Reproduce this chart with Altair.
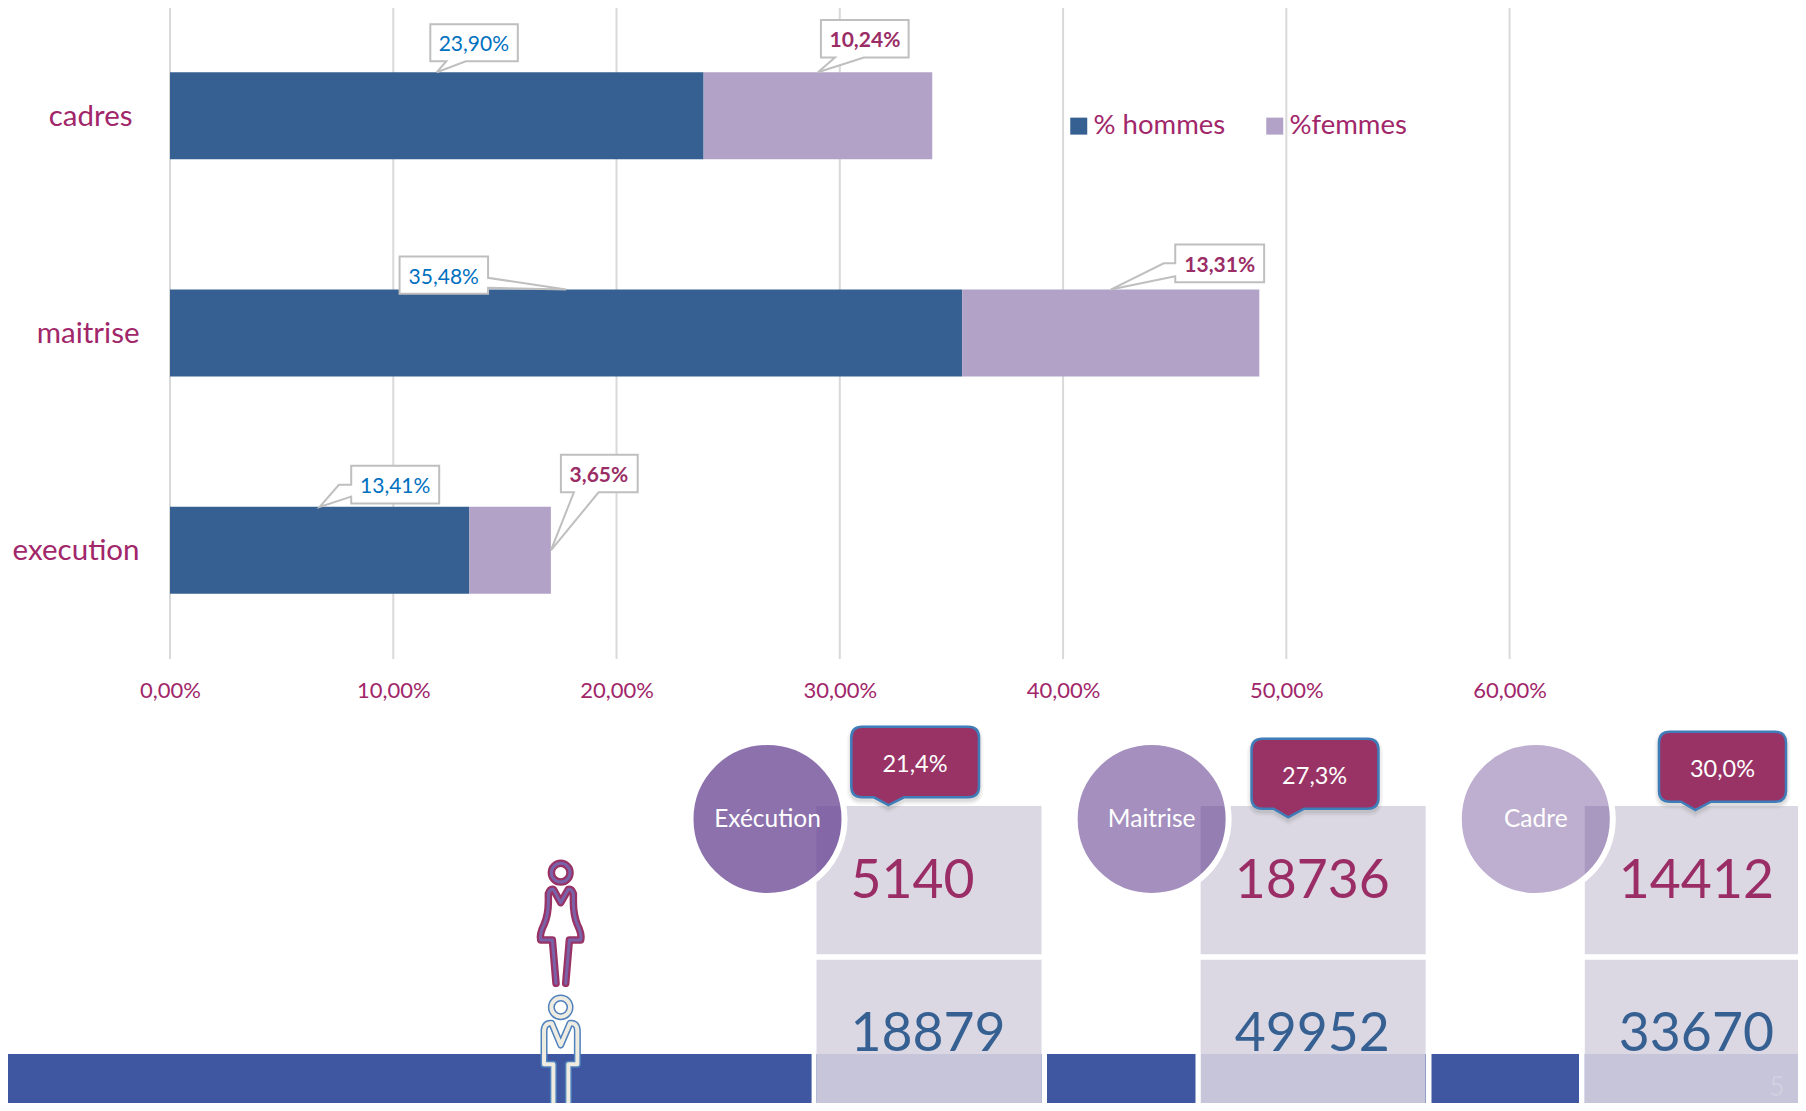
import altair as alt
import pandas as pd

# ---- values ----
categories = ["cadres", "maitrise", "execution"]
series = ["% hommes", "%femmes"]
pct_hommes = [0.2390, 0.3548, 0.1341]
pct_femmes = [0.1024, 0.1331, 0.0365]
label_hommes = ["23,90%", "35,48%", "13,41%"]
label_femmes = ["10,24%", "13,31%", "3,65%"]
x_ticks = [0.0, 0.1, 0.2, 0.3, 0.4, 0.5, 0.6]

levels = ["Exécution", "Maitrise", "Cadre"]
count_femmes = [5140, 18736, 14412]
count_hommes = [18879, 49952, 33670]
pct_bubble = ["21,4%", "27,3%", "30,0%"]
rows = ["femmes", "hommes"]

# ---- styles ----
FONT = "Lato"
PLUM = "#9B2D66"
AXIS_TXT = "#A1266A"
BLUE = "#366092"
LILAC = "#B2A2C7"
W, H = 1790, 1095

bars = []
for c, h, f in zip(categories, pct_hommes, pct_femmes):
    bars.append(dict(cat=c, s=series[0], start=0, end=h, mid=h / 2))
    bars.append(dict(cat=c, s=series[1], start=h, end=h + f, mid=h + f / 2))
bars = pd.DataFrame(bars)

x_bar = alt.Scale(domain=[0, 0.6], range=[162, 1501.6])
y_bar = alt.Scale(type="band", domain=categories, range=[-1, 651], paddingInner=0.6, paddingOuter=0.3)


def poly(pts):
    return "M" + " L".join(f"{x} {y}" for x, y in pts) + " Z"


# callouts: (series, category, anchor field, band position, polygon relative to tip, text offset, text)
callouts = [
    (0, "cadres", "mid", 0, [(-6.5, -48), (81, -48), (81, -11), (29, -11), (0, 0), (9.6, -11), (-6.5, -11)], (37, -27.4), label_hommes[0]),
    (1, "cadres", "mid", 0, [(3, -52.3), (90.7, -52.3), (90.7, -14.6), (46, -14.6), (0, 0), (17, -14.6), (3, -14.6)], (47, -31), label_femmes[0]),
    (0, "maitrise", "mid", 0, [(-166.5, -33), (-78, -33), (-78, -11.7), (0, 0), (-78, -1.7), (-78, 4.2), (-166.5, 4.2)], (-122.3, -11.7), label_hommes[1]),
    (1, "maitrise", "mid", 0, [(64.5, -45), (153.4, -45), (153.4, -7.3), (64.5, -7.3), (64.5, -13.3), (0, 0), (53, -26.2), (64.5, -26.2)], (109, -23.7), label_femmes[1]),
    (0, "execution", "mid", 0, [(31.5, -41), (119.5, -41), (119.5, -3.3), (31.5, -3.3), (31.5, -10.2), (0, 0), (19.2, -22), (31.5, -22)], (75.5, -20.2), label_hommes[2]),
    (1, "execution", "end", 0.5, [(10, -95.5), (86.8, -95.5), (86.8, -58), (47.7, -58), (0, 0), (23, -58), (10, -58)], (48, -74), label_femmes[2]),
]

layers = []

# grid
layers.append(
    alt.Chart(pd.DataFrame({"t": x_ticks}))
    .mark_rule(color="#D9D9D9", strokeWidth=2)
    .encode(x=alt.X("t:Q", scale=x_bar, axis=None), y=alt.value(-1), y2=alt.value(651))
)

# stacked bars with axes and legend
layers.append(
    alt.Chart(bars)
    .mark_bar()
    .encode(
        x=alt.X(
            "start:Q",
            scale=x_bar,
            axis=alt.Axis(
                values=x_ticks, grid=False, domain=False, ticks=False, title=None, orient="bottom",
                offset=-(H - 651), labelPadding=31, labelBaseline="middle", labelFont=FONT, labelFontSize=22,
                labelFlush=False, labelOverlap=False,
                labelColor=AXIS_TXT, labelExpr="replace(format(datum.value,'.2%'),'.',',')",
            ),
        ),
        x2="end:Q",
        y=alt.Y(
            "cat:N",
            scale=y_bar,
            axis=alt.Axis(
                grid=False, domain=False, ticks=False, title=None, orient="left", offset=-162,
                labelPadding={"condition": {"test": "datum.label == 'cadres'", "value": 38}, "value": 31},
                labelOffset=1, labelFont=FONT, labelFontSize=29.5, labelColor=AXIS_TXT,
            ),
        ),
        color=alt.Color(
            "s:N",
            scale=alt.Scale(domain=series, range=[BLUE, LILAC]),
            legend=alt.Legend(
                orient="none", legendX=1057, legendY=104, direction="horizontal", title=None, padding=0,
                symbolType="square", symbolSize=289, symbolStrokeWidth=0, symbolOpacity=1, labelFont=FONT,
                labelFontSize=27.5, labelColor=AXIS_TXT, labelOffset=1, columnPadding=35,
            ),
        ),
    )
)

# data-label callouts, tied to the bars
for s, cat, field, band, pts, (dx, dy), txt in callouts:
    row = bars[(bars.cat == cat) & (bars.s == series[s])].assign(txt=txt)
    enc = dict(
        x=alt.X(f"{field}:Q", scale=x_bar, axis=None),
        y=alt.Y("cat:N", scale=y_bar, axis=None, bandPosition=band),
    )
    layers.append(
        alt.Chart(row).mark_point(shape=poly(pts), size=4, filled=True, fill="white", stroke="#BFBFBF", strokeWidth=2, opacity=1).encode(**enc)
    )
    layers.append(
        alt.Chart(row)
        .mark_text(dx=dx, dy=dy, font=FONT, fontSize=21, color="#0070C0" if s == 0 else PLUM, fontWeight="normal" if s == 0 else "bold")
        .encode(text="txt:N", **enc)
    )

# ---- lower band ----
x_card = alt.Scale(type="band", domain=levels, range=[808.5, 1801.8], paddingInner=0.4143, paddingOuter=0)
y_card = alt.Scale(type="band", domain=rows, range=[798, 1100], paddingInner=0.037, paddingOuter=0)
XC = alt.X("level:N", scale=x_card, axis=None, bandPosition=0)
YC = alt.Y("row:N", scale=y_card, axis=None, bandPosition=0)

band_spans = [(-1, 803.6), (808.5, 1033.5), (1039, 1187.5), (1193, 1418), (1423.5, 1571), (1576.8, W + 1)]
for x0, x1 in band_spans:
    layers.append(
        alt.Chart(pd.DataFrame({"a": [0]})).mark_rect(color="#3F57A0").encode(
            x=alt.value(x0), x2=alt.value(x1), y=alt.value(1046), y2=alt.value(H + 1)
        )
    )

df_level = pd.DataFrame({"level": levels, "row": rows[0], "pct": pct_bubble})
df_cards = pd.DataFrame(
    {
        "level": levels * 2,
        "row": [rows[0]] * 3 + [rows[1]] * 3,
        "n": count_femmes + count_hommes,
        "kind": ["f"] * 3 + ["h"] * 3,
    }
)

# cards
layers.append(
    alt.Chart(df_cards).mark_bar(color="#D6D3DF", opacity=0.89).encode(
        x=alt.X("level:N", scale=x_card, axis=None), y=alt.Y("row:N", scale=y_card, axis=None)
    )
)

# translucent circles with an opaque white ring, above the cards
for lvl, alpha in zip(levels, [0.74, 0.59, 0.42]):
    d = df_level[df_level.level == lvl]
    layers.append(
        alt.Chart(d).mark_circle(size=23716, fill="#644090", fillOpacity=alpha, stroke="white", strokeWidth=6, strokeOpacity=1, opacity=1, xOffset=-49, yOffset=13).encode(x=XC, y=YC)
    )
    layers.append(
        alt.Chart(d).mark_text(font=FONT, fontSize=24.5, color="white", xOffset=-49, yOffset=14.3).encode(x=XC, y=YC, text=alt.Text("level:N"))
    )

for kind, col in [("f", PLUM), ("h", BLUE)]:
    layers.append(
        alt.Chart(df_cards[df_cards.kind == kind]).mark_text(font=FONT, fontSize=53.5, color=col, align="left", dx=34, dy=1.5).encode(
            x=XC, y=alt.Y("row:N", scale=y_card, axis=None), text="n:N"
        )
    )


def bubble(x0, x1, y0, y1, b0, tx, b1, ty, r=11):
    return (
        f"M{x0 + r} {y0} L{x1 - r} {y0} Q{x1} {y0} {x1} {y0 + r} L{x1} {y1 - r} Q{x1} {y1} {x1 - r} {y1} "
        f"L{b1} {y1} L{tx} {ty} L{b0} {y1} L{x0 + r} {y1} Q{x0} {y1} {x0} {y1 - r} L{x0} {y0 + r} Q{x0} {y0} {x0 + r} {y0} Z"
    )


bubbles = [
    ((34.8, 162.5, -79.3, -8.7, 57.5, 71.9, 87.5, -1), (98.5, -41.3)),
    ((50.9, 177.8, -67.3, 2.7, 72.8, 87.6, 103.5, 11.3), (114, -28.7)),
    ((74.2, 201.2, -74.3, -4.3, 96.2, 110.6, 126.2, 4), (137.7, -36.3)),
]
for lvl, (b, (dx, dy)) in zip(levels, bubbles):
    d = df_level[df_level.level == lvl]
    path = bubble(*b)
    for sw, op in [(9, 0.06), (6, 0.08), (3, 0.14)]:
        layers.append(
            alt.Chart(d).mark_point(shape=path, size=4, filled=True, fill="#7F7F7F", stroke="#7F7F7F", strokeWidth=sw, opacity=op, yOffset=3).encode(x=XC, y=YC)
        )
    layers.append(
        alt.Chart(d).mark_point(shape=path, size=4, filled=True, fill="#993366", stroke="#3F7DB9", strokeWidth=2.5, opacity=1).encode(x=XC, y=YC)
    )
    layers.append(
        alt.Chart(d).mark_text(font=FONT, fontSize=23.5, color="white", dx=dx, dy=dy).encode(x=XC, y=YC, text="pct:N")
    )


# ---- pictograms (outline paths, local units of 1/3 px) ----
def ring(cx, cy, r):
    k = 0.5523 * r
    return (
        f"M{cx - r} {cy} C{cx - r} {cy - k} {cx - k} {cy - r} {cx} {cy - r} "
        f"C{cx + k} {cy - r} {cx + r} {cy - k} {cx + r} {cy} "
        f"C{cx + r} {cy + k} {cx + k} {cy + r} {cx} {cy + r} "
        f"C{cx - k} {cy + r} {cx - r} {cy + k} {cx - r} {cy} Z "
    )


woman = ring(0, 68, 28) + (
    "M-14 400 L-25 270 L-60 270 Q-64 252 -50 224 Q-37 194 -37 155 L-37 131 Q-32 116 -22 118 L0 158 "
    "L23 118 Q33 116 38 131 L38 155 Q38 194 50 224 Q64 252 60 270 L26 270 L15 400"
)
man = ring(0, 67, 28) + (
    "M-22 400 L-22 238 L-50 238 L-50 135 Q-47 112 -27 115 L0 180 L28 115 Q48 112 50 135 L50 238 L23 238 L23 400"
)
icons = [
    (woman, 552.7, 842, [("#993366", 7.5), ("#7A62A8", 3)]),
    (man, 552.7, 977, [("#4F81BD", 7), ("#EEECE1", 4)]),
]
for path, ax, ay, strokes in icons:
    for col, sw in strokes:
        layers.append(
            alt.Chart(pd.DataFrame({"a": [0]}))
            .mark_point(shape=path, size=4 / 9, stroke=col, strokeWidth=sw, opacity=1, filled=False, strokeJoin="round", strokeCap="round")
            .encode(x=alt.value(ax), y=alt.value(ay))
        )

# faint slide number
layers.append(
    alt.Chart(pd.DataFrame({"a": ["5"]})).mark_text(font=FONT, fontSize=26, color="#D0CFE0").encode(x=alt.value(1769), y=alt.value(1080), text="a:N")
)

chart = (
    alt.layer(*layers)
    .resolve_scale(x="independent", y="independent", color="independent")
    .properties(width=W, height=H, padding=0, background="white", autosize=alt.AutoSizeParams(type="none", contains="padding"))
    .configure_view(stroke=None)
)

chart.save("out.html", embed_options={"renderer": "svg", "actions": False})
